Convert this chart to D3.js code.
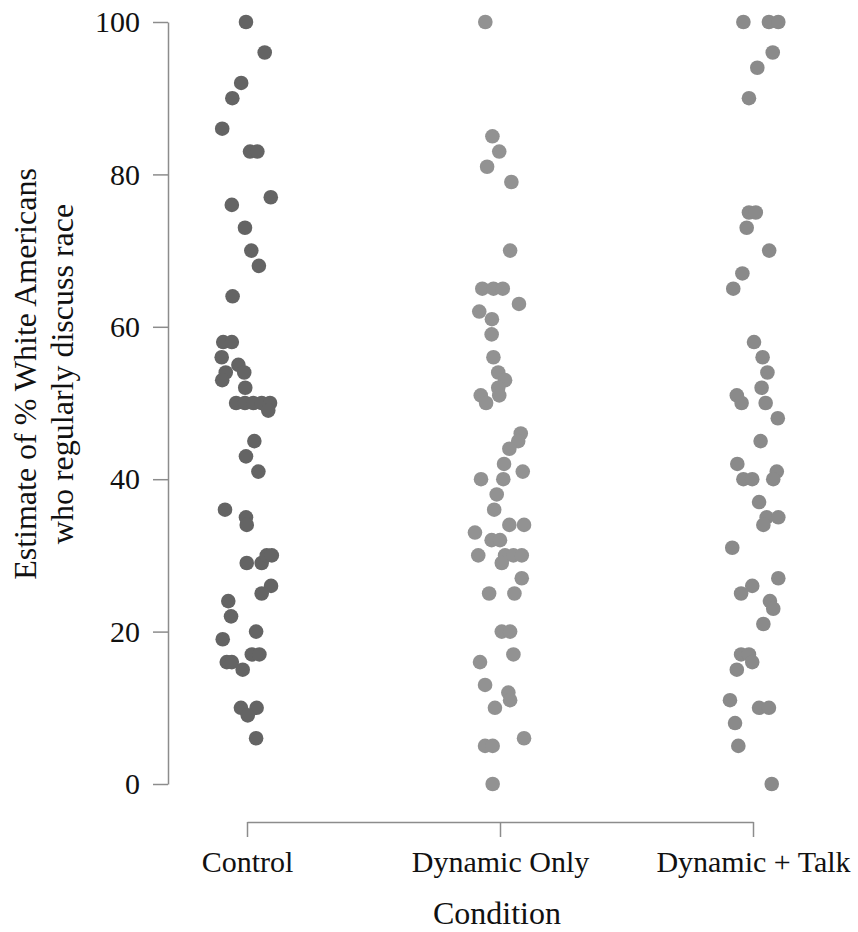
<!DOCTYPE html>
<html><head><meta charset="utf-8">
<script src="https://cdn.jsdelivr.net/npm/d3@7"></script>
<style>
html,body{margin:0;padding:0;background:#fff;}
svg{display:block;}
</style></head>
<body>
<script>
// ---- data ----
const categories = ["Control", "Dynamic Only", "Dynamic + Talk"];
const yTicks = [0, 20, 40, 60, 80, 100];

const controlValues = [100,96,92,90,86,83,83,77,76,73,70,68,64,58,58,56,55,54,54,53,52,50,50,50,50,50,49,45,43,41,36,35,34,29,29,30,30,26,25,24,22,20,19,17,17,16,16,15,10,10,9,6];
const controlJitter = [-0.004,0.070,-0.023,-0.058,-0.098,0.012,0.041,0.094,-0.060,-0.008,0.017,0.047,-0.057,-0.094,-0.060,-0.100,-0.034,-0.084,-0.011,-0.098,-0.007,-0.043,-0.008,0.025,0.058,0.091,0.084,0.029,-0.004,0.045,-0.087,-0.004,-0.001,-0.001,0.058,0.078,0.098,0.095,0.058,-0.074,-0.063,0.036,-0.096,0.019,0.049,-0.080,-0.060,-0.017,-0.024,0.038,0.003,0.036];

const dynamicValues = [100,85,83,81,79,70,65,65,65,63,62,61,59,56,54,53,52,51,51,50,46,45,44,42,41,40,40,38,36,34,34,33,32,32,30,30,30,30,29,27,25,25,20,20,17,16,13,12,11,10,6,5,5,0];
const dynamicJitter = [-0.058,-0.030,-0.003,-0.051,0.045,0.040,-0.070,-0.026,0.011,0.075,-0.082,-0.032,-0.033,-0.026,-0.007,0.020,-0.007,-0.003,-0.076,-0.055,0.082,0.072,0.037,0.016,0.090,-0.075,0.013,-0.013,-0.023,0.037,0.095,-0.099,-0.033,0,-0.086,0.020,0.053,0.086,0.007,0.086,-0.043,0.057,0.007,0.040,0.053,-0.079,-0.059,0.033,0.040,-0.020,0.095,-0.059,-0.029,-0.029];

const talkValues = [100,100,100,96,94,90,75,75,73,70,67,65,58,56,54,52,51,50,50,48,45,42,41,40,40,40,37,35,35,34,31,27,26,25,24,23,21,17,17,16,15,11,10,10,8,5,0];
const talkJitter = [-0.038,0.063,0.100,0.078,0.017,-0.016,-0.016,0.011,-0.025,0.064,-0.042,-0.078,0.004,0.038,0.057,0.034,-0.064,-0.045,0.050,0.098,0.030,-0.062,0.094,0.080,-0.038,-0.003,0.024,0.054,0.100,0.041,-0.082,0.100,-0.003,-0.047,0.067,0.080,0.041,-0.047,-0.016,-0.003,-0.064,-0.091,0.024,0.063,-0.071,-0.058,0.074];

const yTitleLines = ["Estimate of % White Americans", "who regularly discuss race"];
const xTitle = "Condition";

// ---- drawing ----
const W = 858, H = 932;
const colors = ["#646464", "#929292", "#8a8a8a"];
const font = "'Liberation Serif','Times New Roman',serif";

const svg = d3.select("body").append("svg").attr("width", W).attr("height", H);

const y = d3.scaleLinear().domain([0, 100]).range([784, 22]);
const x = d3.scalePoint().domain(categories).range([247, 753]);
const step = x.step();

const series = [
  {cat: categories[0], values: controlValues, jitter: controlJitter},
  {cat: categories[1], values: dynamicValues, jitter: dynamicJitter},
  {cat: categories[2], values: talkValues, jitter: talkJitter}
];

// y axis
const yAxis = svg.append("g").attr("transform", "translate(168,0)")
  .call(d3.axisLeft(y).tickValues(yTicks).tickSize(15).tickSizeOuter(0).tickPadding(13));
// x axis
const xAxis = svg.append("g").attr("transform", "translate(0,822)")
  .call(d3.axisBottom(x).tickSize(15).tickSizeOuter(0).tickPadding(14));

[yAxis, xAxis].forEach(g => {
  g.select(".domain").attr("stroke", "#8c8c8c").attr("stroke-width", 1.5);
  g.selectAll(".tick line").attr("stroke", "#8c8c8c").attr("stroke-width", 1.5);
  g.selectAll(".tick text").attr("fill", "#111").style("font-family", font).style("font-size", "30px");
});

// points
series.forEach((s, i) => {
  svg.append("g").selectAll("circle")
    .data(s.values.map((v, j) => ({v, j: s.jitter[j]})))
    .join("circle")
    .attr("cx", d => x(s.cat) + d.j * step)
    .attr("cy", d => y(d.v))
    .attr("r", 7.3)
    .attr("fill", colors[i]);
});

// y title
const yt = svg.append("text")
  .attr("transform", "translate(0,374) rotate(-90)")
  .attr("text-anchor", "middle")
  .attr("fill", "#111")
  .style("font-family", font).style("font-size", "32px");
yt.append("tspan").attr("x", 0).attr("y", 36).text(yTitleLines[0]);
yt.append("tspan").attr("x", 0).attr("y", 73).text(yTitleLines[1]);

// x title
svg.append("text")
  .attr("x", 497).attr("y", 924)
  .attr("text-anchor", "middle")
  .attr("fill", "#111")
  .style("font-family", font).style("font-size", "32px")
  .text(xTitle);
</script>
</body></html>
